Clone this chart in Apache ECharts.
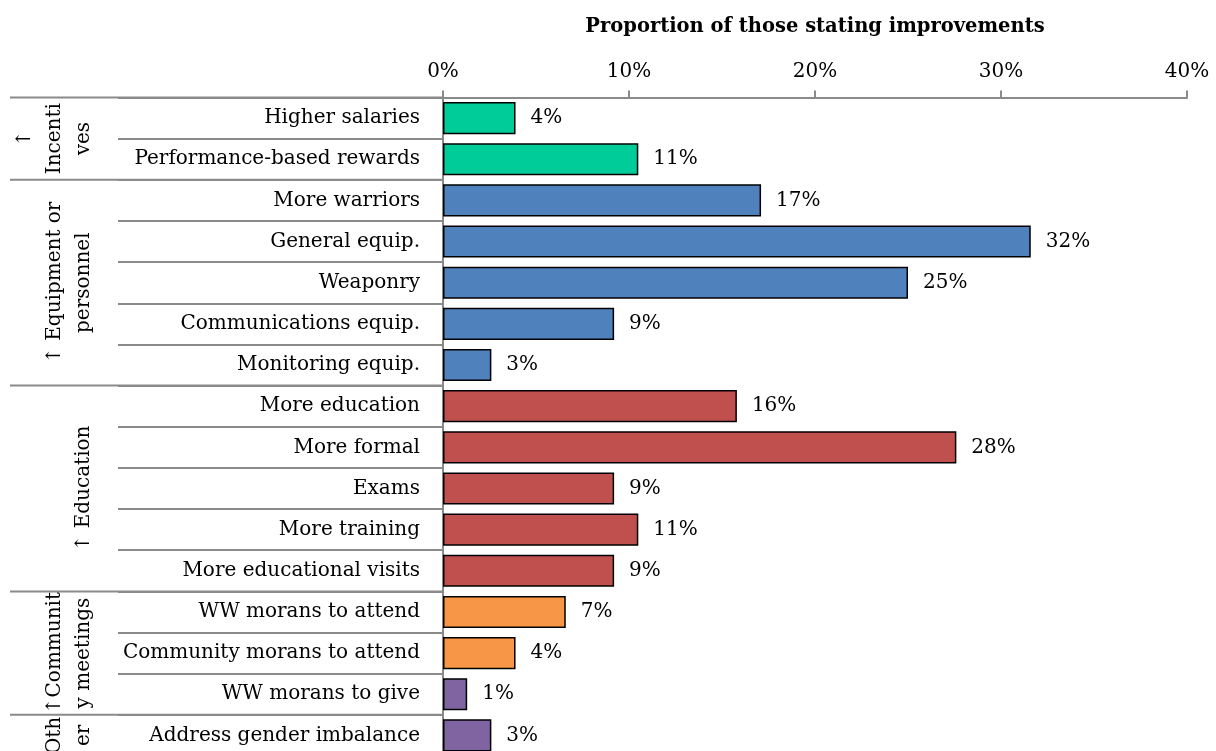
<!DOCTYPE html>
<html>
<head>
<meta charset="utf-8">
<script src="https://cdn.jsdelivr.net/npm/echarts@6/dist/echarts.min.js"></script>
<style>
  html, body { margin: 0; padding: 0; background: #fff; overflow: hidden; }
  #chart { width: 1216px; height: 756px; }
</style>
</head>
<body>
<div id="chart"></div>
<script>
// Improvement categories, top to bottom
const categories = [
  'Higher salaries', 'Performance-based rewards',
  'More warriors', 'General equip.', 'Weaponry', 'Communications equip.', 'Monitoring equip.',
  'More education', 'More formal', 'Exams', 'More training', 'More educational visits',
  'WW morans to attend', 'Community morans to attend', 'WW morans to give',
  'Address gender imbalance'
];
// Share of respondents naming each improvement (%)
const values = [3.9, 10.5, 17.1, 31.6, 25.0, 9.2, 2.6, 15.8, 27.6, 9.2, 10.5, 9.2, 6.6, 3.9, 1.3, 2.6];
// Fill colour index for each bar
const barColorIndex = [0, 0, 1, 1, 1, 1, 1, 2, 2, 2, 2, 2, 3, 3, 4, 4];
const palette = ['#00CC99', '#4F81BD', '#C0504D', '#F79646', '#8064A2'];
// Axis ticks
const xTicks = [0, 10, 20, 30, 40];
// Row groups drawn in the left-hand column (wrapped lines, first row, row count)
const groupLines = [['↑', 'Incenti', 'ves'], ['↑ Equipment or', 'personnel'], ['↑ Education'], ['↑Communit', 'y meetings'], ['Oth', 'er']];
const groupStart = [0, 2, 7, 12, 15];
const groupCount = [2, 5, 5, 3, 1];

const FONT = 'DejaVu Serif';
const FS = 20;
const LINE = '#8a8a8a';

const chart = echarts.init(document.getElementById('chart'), null, { renderer: 'canvas' });

const option = {
  animation: false,
  backgroundColor: '#fff',
  grid: { left: 443, right: 29, top: 97.5, bottom: 0, containLabel: false, outerBoundsMode: 'none' },
  xAxis: {
    type: 'value',
    position: 'top',
    min: xTicks[0],
    max: xTicks[xTicks.length - 1],
    interval: xTicks[1] - xTicks[0],
    name: 'Proportion of those stating improvements',
    nameLocation: 'middle',
    nameGap: 61,
    nameTextStyle: { fontFamily: FONT, fontWeight: 'bold', fontSize: 19.5, color: '#000' },
    axisLine: { show: true, lineStyle: { color: LINE, width: 2 } },
    axisTick: { show: true, length: 7, lineStyle: { color: LINE, width: 2 } },
    axisLabel: { formatter: '{value}%', fontFamily: FONT, fontSize: FS, color: '#000', margin: 16 },
    splitLine: { show: false }
  },
  yAxis: {
    type: 'category',
    inverse: true,
    data: categories,
    axisLine: { show: true, lineStyle: { color: LINE, width: 2 } },
    axisTick: { show: true, inside: false, length: 325, interval: 0, lineStyle: { color: LINE, width: 2 } },
    axisLabel: { fontFamily: FONT, fontSize: FS, color: '#000', margin: 23, align: 'right' }
  },
  series: [{
    type: 'bar',
    barCategoryGap: '22%',
    data: values.map((v, i) => ({ value: v, itemStyle: { color: palette[barColorIndex[i]] } })),
    itemStyle: { borderColor: '#000', borderWidth: 1.5 },
    label: {
      show: true,
      position: 'right',
      distance: 15,
      fontFamily: FONT,
      fontSize: FS,
      color: '#000',
      formatter: p => Math.round(p.value) + '%'
    }
  }]
};
chart.setOption(option);

// Group separators and rotated group names, placed from the category scale
function drawGroups() {
  const y0 = chart.convertToPixel({ yAxisIndex: 0 }, categories[0]);
  const y1 = chart.convertToPixel({ yAxisIndex: 0 }, categories[1]);
  const band = y1 - y0;
  const axisX = chart.convertToPixel({ xAxisIndex: 0 }, 0);
  const elements = [];
  groupStart.forEach((start, g) => {
    const top = y0 + (start - 0.5) * band;
    elements.push({
      type: 'line',
      shape: { x1: 10, y1: top, x2: axisX, y2: top },
      style: { stroke: LINE, lineWidth: 2 },
      z: 10
    });
    const mid = top + groupCount[g] * band / 2;
    const lines = groupLines[g];
    lines.forEach((txt, k) => {
      elements.push({
        type: 'text',
        x: 84 - (lines.length - 1 - k) * 29.5,
        y: mid,
        rotation: Math.PI / 2,
        style: {
          text: txt,
          fontFamily: FONT,
          fontSize: FS,
          fill: '#000',
          align: 'center',
          verticalAlign: 'middle'
        },
        z: 10
      });
    });
  });
  chart.setOption({ graphic: elements });
}
drawGroups();
</script>
</body>
</html>
